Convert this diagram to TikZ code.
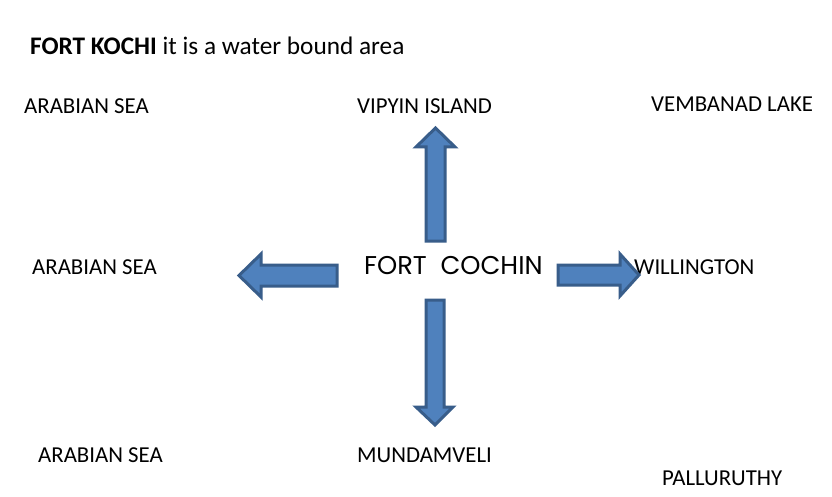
\documentclass[tikz,border=0pt]{standalone}
\usepackage{fontspec}
\setmainfont{Carlito}
\newfontfamily\gothic{Poppins}
\definecolor{arrfill}{RGB}{79,129,189}
\definecolor{arrdraw}{RGB}{56,93,138}
\begin{document}
\begin{tikzpicture}[x=1pt,y=-1pt,
  lbl/.style={anchor=base west,inner sep=0pt,font=\fontsize{22.8}{26}\selectfont},
  blockarrow/.style={fill=arrfill,draw=arrdraw,line width=3pt,line join=miter}]
\useasboundingbox[fill=white] (0,0) rectangle (832,497);
% texts
\node[anchor=base west,inner sep=0pt,font=\fontsize{25.3}{28}\selectfont] (title) at (30,55) {\textbf{FORT KOCHI} it is a water bound area};
\node[lbl] (asea1) at (24,114) {ARABIAN SEA};
\node[lbl] (vipyin) at (357,114) {VIPYIN ISLAND};
\node[lbl] (vemb) at (651,112) {VEMBANAD LAKE};
\node[lbl] (asea2) at (32,274) {ARABIAN SEA};
\node[anchor=base west,inner sep=0pt,font=\gothic\fontsize{25.7}{28}\selectfont] (fc) at (364,274) {FORT\ \ COCHIN};
\node[lbl] (will) at (634,274) {WILLINGTON};
\node[lbl] (asea3) at (38,462) {ARABIAN SEA};
\node[lbl] (mund) at (357,462) {MUNDAMVELI};
\node[lbl] (pall) at (662,485) {PALLURUTHY};
% arrows
\draw[blockarrow] (426,241) -- (426,147) -- (416,147) -- (435.5,128) -- (455,147) -- (445,147) -- (445,241) -- cycle;
\draw[blockarrow] (337,265) -- (261,265) -- (261,254) -- (239,275.5) -- (261,297) -- (261,286) -- (337,286) -- cycle;
\draw[blockarrow] (558,265) -- (620,265) -- (620,254) -- (639,275) -- (620,296) -- (620,285) -- (558,285) -- cycle;
\draw[blockarrow] (426,300) -- (426,407) -- (416,407) -- (435,425) -- (453,407) -- (444,407) -- (444,300) -- cycle;
\end{tikzpicture}
\end{document}
